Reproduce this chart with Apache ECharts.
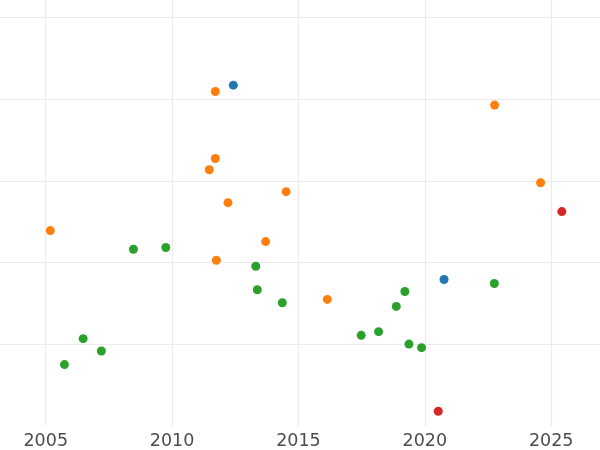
<!DOCTYPE html>
<html>
<head>
<meta charset="utf-8">
<script src="https://cdn.jsdelivr.net/npm/echarts@6/dist/echarts.min.js"></script>
<style>html,body{margin:0;padding:0;background:#fff}#c{width:600px;height:450px}</style>
</head>
<body>
<div id="c"></div>
<script>
// Blue group
const blueX = [2012.42, 2020.76];
const blueY = [4.173, 1.794];
// Orange group
const orangeX = [2011.71, 2011.71, 2011.47, 2014.51, 2022.76, 2024.58, 2012.21, 2005.18, 2013.70, 2011.75, 2016.14];
const orangeY = [4.095, 3.276, 3.138, 2.869, 3.929, 2.979, 2.735, 2.393, 2.258, 2.030, 1.550];
// Green group
const greenX = [2008.47, 2009.75, 2013.31, 2013.37, 2014.36, 2022.75, 2019.21, 2018.87, 2017.48, 2018.17, 2019.37, 2019.87, 2006.48, 2007.20, 2005.74];
const greenY = [2.164, 2.185, 1.956, 1.668, 1.509, 1.745, 1.647, 1.464, 1.110, 1.155, 1.003, 0.959, 1.069, 0.918, 0.752];
// Red group
const redX = [2025.42, 2020.53];
const redY = [2.625, 0.181];

const xTicks = [2005, 2010, 2015, 2020, 2025];

function pts(xs, ys) { return xs.map((x, i) => [x, ys[i]]); }

const chart = echarts.init(document.getElementById('c'), null, {renderer: 'canvas'});
chart.setOption({
  animation: false,
  backgroundColor: '#ffffff',
  grid: {left: 0, right: 0, top: 0, bottom: 23, containLabel: false},
  xAxis: {
    type: 'value',
    min: 2003.19,
    max: 2026.93,
    axisLine: {show: false},
    axisTick: {show: false},
    axisLabel: {
      showMinLabel: false, showMaxLabel: false,
      color: '#4d4d4d', fontSize: 17.5, fontFamily: 'DejaVu Sans', margin: 6,
      formatter: v => xTicks.includes(Math.round(v)) ? String(Math.round(v)) : ''
    },
    splitLine: {show: true, showMinLine: false, showMaxLine: false, lineStyle: {color: '#ebebeb', width: 1.2}}
  },
  yAxis: {
    type: 'value',
    min: 0,
    max: 5.216,
    interval: 1,
    axisLine: {show: false},
    axisTick: {show: false},
    axisLabel: {show: false},
    splitLine: {show: true, showMinLine: false, showMaxLine: false, lineStyle: {color: '#ebebeb', width: 1.2}}
  },
  series: [
    {name: 'blue', type: 'scatter', symbolSize: 9, itemStyle: {color: '#1f77b4', opacity: 1}, data: pts(blueX, blueY)},
    {name: 'orange', type: 'scatter', symbolSize: 9, itemStyle: {color: '#ff7f0e', opacity: 1}, data: pts(orangeX, orangeY)},
    {name: 'green', type: 'scatter', symbolSize: 9, itemStyle: {color: '#2ca02c', opacity: 1}, data: pts(greenX, greenY)},
    {name: 'red', type: 'scatter', symbolSize: 9, itemStyle: {color: '#d62728', opacity: 1}, data: pts(redX, redY)}
  ]
});
</script>
</body>
</html>
